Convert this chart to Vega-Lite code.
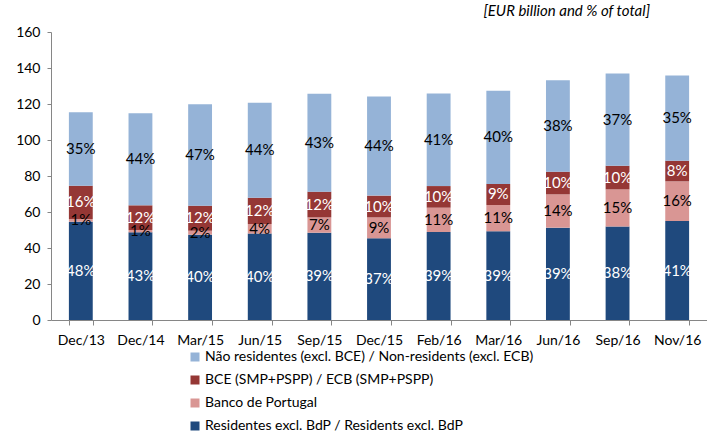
{
  "$schema": "https://vega.github.io/schema/vega-lite/v6.json",
  "width": 656,
  "height": 288,
  "autosize": {"type": "none"},
  "padding": {"left": 51, "top": 32, "right": 0, "bottom": 114},
  "title": {"text": "[EUR billion and % of total]", "anchor": "end", "font": "Lato", "fontStyle": "italic", "fontWeight": "normal", "fontSize": 15, "color": "#000000", "dx": -57, "offset": 6},
  "data": {"values": [
    {"cat": "Dec/13", "series": "Residentes excl. BdP / Residents excl. BdP", "k": 1, "value": 54.6, "label": "48%"},
    {"cat": "Dec/13", "series": "Banco de Portugal", "k": 2, "value": 1.5, "label": "1%"},
    {"cat": "Dec/13", "series": "BCE (SMP+PSPP) / ECB (SMP+PSPP)", "k": 3, "value": 18.5, "label": "16%"},
    {"cat": "Dec/13", "series": "Não residentes (excl. BCE) / Non-residents (excl. ECB)", "k": 4, "value": 40.8, "label": "35%"},
    {"cat": "Dec/14", "series": "Residentes excl. BdP / Residents excl. BdP", "k": 1, "value": 48.7, "label": "43%"},
    {"cat": "Dec/14", "series": "Banco de Portugal", "k": 2, "value": 1.3, "label": "1%"},
    {"cat": "Dec/14", "series": "BCE (SMP+PSPP) / ECB (SMP+PSPP)", "k": 3, "value": 13.7, "label": "12%"},
    {"cat": "Dec/14", "series": "Não residentes (excl. BCE) / Non-residents (excl. ECB)", "k": 4, "value": 51.1, "label": "44%"},
    {"cat": "Mar/15", "series": "Residentes excl. BdP / Residents excl. BdP", "k": 1, "value": 47.4, "label": "40%"},
    {"cat": "Mar/15", "series": "Banco de Portugal", "k": 2, "value": 2.2, "label": "2%"},
    {"cat": "Mar/15", "series": "BCE (SMP+PSPP) / ECB (SMP+PSPP)", "k": 3, "value": 13.9, "label": "12%"},
    {"cat": "Mar/15", "series": "Não residentes (excl. BCE) / Non-residents (excl. ECB)", "k": 4, "value": 56.3, "label": "47%"},
    {"cat": "Jun/15", "series": "Residentes excl. BdP / Residents excl. BdP", "k": 1, "value": 48.0, "label": "40%"},
    {"cat": "Jun/15", "series": "Banco de Portugal", "k": 2, "value": 5.3, "label": "4%"},
    {"cat": "Jun/15", "series": "BCE (SMP+PSPP) / ECB (SMP+PSPP)", "k": 3, "value": 14.6, "label": "12%"},
    {"cat": "Jun/15", "series": "Não residentes (excl. BCE) / Non-residents (excl. ECB)", "k": 4, "value": 52.8, "label": "44%"},
    {"cat": "Sep/15", "series": "Residentes excl. BdP / Residents excl. BdP", "k": 1, "value": 48.5, "label": "39%"},
    {"cat": "Sep/15", "series": "Banco de Portugal", "k": 2, "value": 8.5, "label": "7%"},
    {"cat": "Sep/15", "series": "BCE (SMP+PSPP) / ECB (SMP+PSPP)", "k": 3, "value": 14.3, "label": "12%"},
    {"cat": "Sep/15", "series": "Não residentes (excl. BCE) / Non-residents (excl. ECB)", "k": 4, "value": 54.4, "label": "43%"},
    {"cat": "Dec/15", "series": "Residentes excl. BdP / Residents excl. BdP", "k": 1, "value": 45.4, "label": "37%"},
    {"cat": "Dec/15", "series": "Banco de Portugal", "k": 2, "value": 11.6, "label": "9%"},
    {"cat": "Dec/15", "series": "BCE (SMP+PSPP) / ECB (SMP+PSPP)", "k": 3, "value": 12.1, "label": "10%"},
    {"cat": "Dec/15", "series": "Não residentes (excl. BCE) / Non-residents (excl. ECB)", "k": 4, "value": 55.0, "label": "44%"},
    {"cat": "Feb/16", "series": "Residentes excl. BdP / Residents excl. BdP", "k": 1, "value": 48.9, "label": "39%"},
    {"cat": "Feb/16", "series": "Banco de Portugal", "k": 2, "value": 13.5, "label": "11%"},
    {"cat": "Feb/16", "series": "BCE (SMP+PSPP) / ECB (SMP+PSPP)", "k": 3, "value": 12.0, "label": "10%"},
    {"cat": "Feb/16", "series": "Não residentes (excl. BCE) / Non-residents (excl. ECB)", "k": 4, "value": 51.5, "label": "41%"},
    {"cat": "Mar/16", "series": "Residentes excl. BdP / Residents excl. BdP", "k": 1, "value": 49.3, "label": "39%"},
    {"cat": "Mar/16", "series": "Banco de Portugal", "k": 2, "value": 14.6, "label": "11%"},
    {"cat": "Mar/16", "series": "BCE (SMP+PSPP) / ECB (SMP+PSPP)", "k": 3, "value": 11.7, "label": "9%"},
    {"cat": "Mar/16", "series": "Não residentes (excl. BCE) / Non-residents (excl. ECB)", "k": 4, "value": 51.8, "label": "40%"},
    {"cat": "Jun/16", "series": "Residentes excl. BdP / Residents excl. BdP", "k": 1, "value": 51.3, "label": "39%"},
    {"cat": "Jun/16", "series": "Banco de Portugal", "k": 2, "value": 18.5, "label": "14%"},
    {"cat": "Jun/16", "series": "BCE (SMP+PSPP) / ECB (SMP+PSPP)", "k": 3, "value": 12.6, "label": "10%"},
    {"cat": "Jun/16", "series": "Não residentes (excl. BCE) / Non-residents (excl. ECB)", "k": 4, "value": 50.8, "label": "38%"},
    {"cat": "Sep/16", "series": "Residentes excl. BdP / Residents excl. BdP", "k": 1, "value": 51.9, "label": "38%"},
    {"cat": "Sep/16", "series": "Banco de Portugal", "k": 2, "value": 20.7, "label": "15%"},
    {"cat": "Sep/16", "series": "BCE (SMP+PSPP) / ECB (SMP+PSPP)", "k": 3, "value": 13.1, "label": "10%"},
    {"cat": "Sep/16", "series": "Não residentes (excl. BCE) / Non-residents (excl. ECB)", "k": 4, "value": 51.3, "label": "37%"},
    {"cat": "Nov/16", "series": "Residentes excl. BdP / Residents excl. BdP", "k": 1, "value": 55.0, "label": "41%"},
    {"cat": "Nov/16", "series": "Banco de Portugal", "k": 2, "value": 22.0, "label": "16%"},
    {"cat": "Nov/16", "series": "BCE (SMP+PSPP) / ECB (SMP+PSPP)", "k": 3, "value": 11.5, "label": "8%"},
    {"cat": "Nov/16", "series": "Não residentes (excl. BCE) / Non-residents (excl. ECB)", "k": 4, "value": 47.4, "label": "35%"}
  ]},
  "transform": [
    {"stack": "value", "groupby": ["cat"], "sort": [{"field": "k", "order": "ascending"}], "as": ["v0", "v1"]},
    {"calculate": "(datum.v0 + datum.v1) / 2", "as": "mid"}
  ],
  "encoding": {
    "x": {
      "field": "cat", "type": "nominal",
      "sort": ["Dec/13", "Dec/14", "Mar/15", "Jun/15", "Sep/15", "Dec/15", "Feb/16", "Mar/16", "Jun/16", "Sep/16", "Nov/16"],
      "scale": {"paddingInner": 0.6, "paddingOuter": 0.3},
      "axis": {"title": null, "labelAngle": 0, "tickBand": "extent", "tickSize": 5, "labelPadding": 8, "labelFont": "Lato", "labelFontSize": 14, "labelColor": "#000000", "domainColor": "#868686", "tickColor": "#868686"}
    }
  },
  "layer": [
    {
      "mark": {"type": "bar"},
      "encoding": {
        "y": {"field": "v0", "type": "quantitative", "scale": {"domain": [0, 160], "nice": false},
          "axis": {"title": null, "values": [0, 20, 40, 60, 80, 100, 120, 140, 160], "labelOverlap": false, "grid": false, "tickSize": 4, "labelPadding": 7, "labelFont": "Lato", "labelFontSize": 14, "labelColor": "#000000", "domainColor": "#868686", "tickColor": "#868686"}},
        "y2": {"field": "v1"},
        "color": {
          "field": "series", "type": "nominal",
          "scale": {
            "domain": ["Não residentes (excl. BCE) / Non-residents (excl. ECB)", "BCE (SMP+PSPP) / ECB (SMP+PSPP)", "Banco de Portugal", "Residentes excl. BdP / Residents excl. BdP"],
            "range": ["#95B3D7", "#953735", "#D99694", "#1F497D"]
          },
          "legend": {"title": null, "orient": "none", "legendX": 137, "legendY": 318, "direction": "vertical", "symbolType": "square", "symbolSize": 81, "symbolStrokeWidth": 0, "labelFont": "Lato", "labelFontSize": 14, "labelColor": "#000000", "labelOffset": 3, "rowPadding": 9, "labelLimit": 600}
        }
      }
    },
    {
      "mark": {"type": "text", "font": "Lato", "fontSize": 15},
      "encoding": {
        "y": {"field": "mid", "type": "quantitative", "axis": null},
        "text": {"field": "label"},
        "color": {"condition": {"test": "datum.k == 1 || datum.k == 3", "value": "#FFFFFF"}, "value": "#000000"}
      }
    }
  ],
  "resolve": {"axis": {"y": "independent"}},
  "config": {"view": {"stroke": null}}
}
